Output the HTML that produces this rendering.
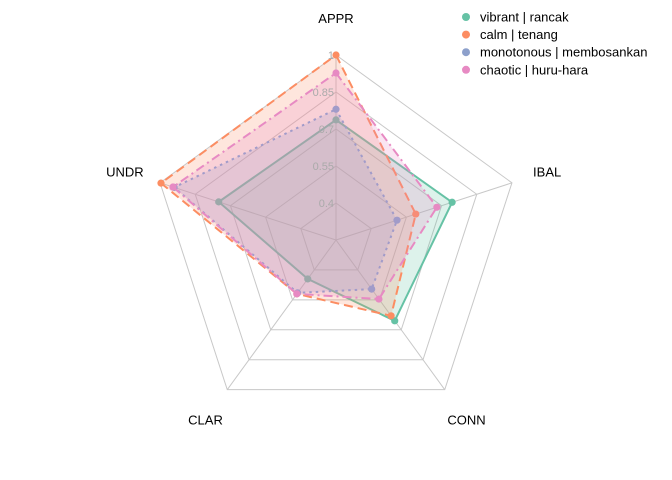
<!DOCTYPE html>
<html><head><meta charset="utf-8"><style>
body{margin:0;background:#fff;}
svg{display:block;font-family:"Liberation Sans",Arial,sans-serif;}
</style></head><body>
<svg id="chart" width="672" height="480"></svg>
<script>
const axes = ["APPR","IBAL","CONN","CLAR","UNDR"];
const seriesNames = ["vibrant | rancak","calm | tenang","monotonous | membosankan","chaotic | huru-hara"];
const vibrant = [0.737,0.745,0.655,0.445,0.75];
const calm = [1.0,0.59,0.63,0.52,0.996];
const monotonous = [0.78,0.51,0.496,0.515,0.94];
const chaotic = [0.927,0.68,0.546,0.52,0.945];
const ticks = [0.4,0.55,0.7,0.85,1];
const tickLabels = ["0.4","0.55","0.7","0.85","1"];

const NS="http://www.w3.org/2000/svg";
const svg=document.getElementById('chart');
const cx=336, cy=240, rMin=0.25, rMax=1.0, Rmax=185;
const colors=["#66c2a5","#fc8d62","#8da0cb","#e78ac3"];
const dashes=["","9,5","2.5,4","9,4,2,4"];
const allSeries=[vibrant,calm,monotonous,chaotic];
function rs(v){return (v-rMin)/(rMax-rMin)*Rmax;}
function ang(i){return -Math.PI/2 + i*2*Math.PI/axes.length;}
function pt(i,r){return [cx+r*Math.cos(ang(i)), cy+r*Math.sin(ang(i))];}
function mk(tag,attrs){const e=document.createElementNS(NS,tag);for(const k in attrs)e.setAttribute(k,attrs[k]);svg.appendChild(e);return e;}

// grid rings
ticks.forEach((t,k)=>{
  const p=axes.map((a,i)=>pt(i,rs(t)).join(',')).join(' ');
  const e=mk('polygon',{points:p,fill:'none',stroke:'#c8c8c8','stroke-width':1});
  
  
});
axes.forEach((a,i)=>{
  const p=pt(i,rs(1));
  const e=mk('line',{x1:cx,y1:cy,x2:p[0],y2:p[1],stroke:'#c8c8c8','stroke-width':1});
  
  
});
// series
allSeries.forEach((vals,s)=>{
  const p=vals.map((v,i)=>pt(i,rs(v)).join(',')).join(' ');
  const poly=mk('polygon',{points:p,fill:colors[s],'fill-opacity':0.22,stroke:colors[s],'stroke-width':2,'stroke-dasharray':dashes[s]});
  
  
  vals.forEach((v,i)=>{
    const q=pt(i,rs(v));
    const c=mk('circle',{cx:q[0],cy:q[1],r:3.6,fill:colors[s]});
    
    
  });
});
// tick labels
ticks.forEach((t,k)=>{
  const e=mk('text',{x:cx-2,y:cy-rs(t)+4,'text-anchor':'end','font-size':11,fill:'#aaaaaa'});
  e.textContent=tickLabels[k];
  
  
});
// axis labels
axes.forEach((a,i)=>{
  const q=pt(i,222);
  const e=mk('text',{x:q[0],y:q[1]+5,'text-anchor':'middle','font-size':13,fill:'#000'});
  e.textContent=a;
  
  
});
// legend
seriesNames.forEach((n,s)=>{
  const y=17+s*17.6;
  const c=mk('circle',{cx:466,cy:y,r:4,fill:colors[s]});
  
  
  const t=mk('text',{x:480,y:y+4.5,'font-size':13,fill:'#000'});
  t.textContent=n;
  
  
});
</script>
</body></html>
